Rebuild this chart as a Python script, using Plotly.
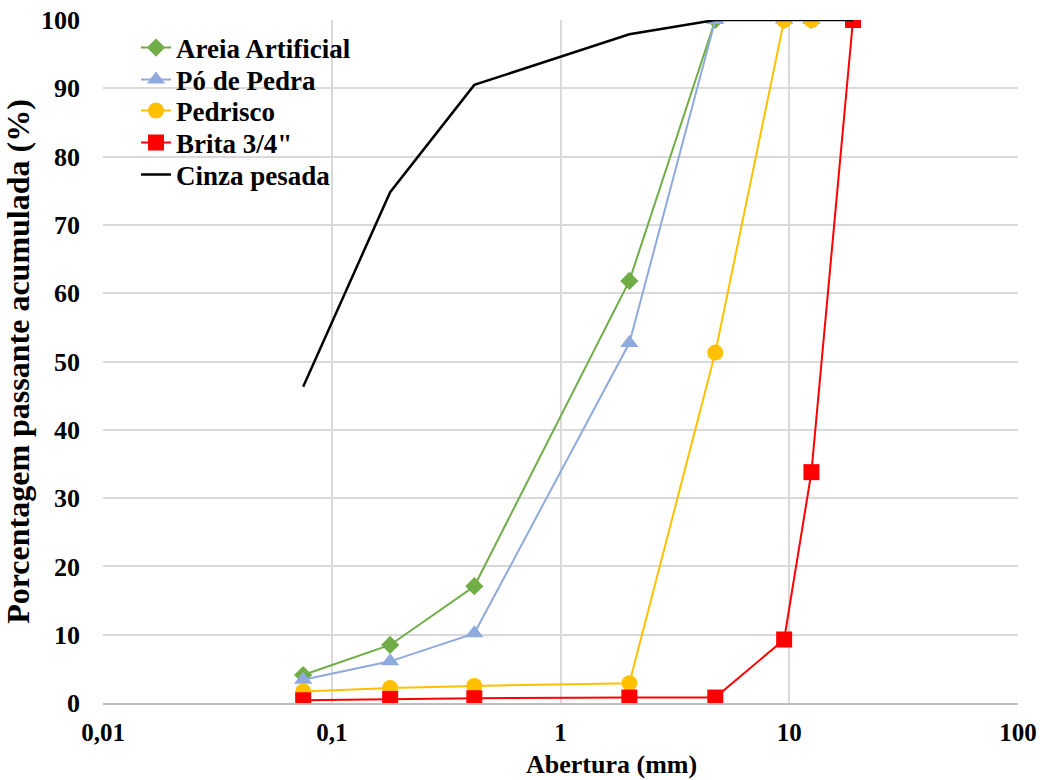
import plotly.graph_objects as go

# Sieve openings (mm)
aberturas = [0.075, 0.18, 0.42, 2.0, 4.75, 9.5, 12.5, 19.0]

areia_artificial = [4.1, 8.5, 17.1, 61.8, 100, 100, 100]
po_de_pedra = [3.4, 6.1, 10.2, 52.7, 100, 100, 100]
pedrisco = [1.7, 2.2, 2.5, 2.9, 51.3, 100, 100]
brita = [0.4, 0.6, 0.7, 0.8, 0.8, 9.3, 33.8, 100]
cinza_pesada = [46.3, 74.8, 90.5, 97.9, 100, 100, 100, 100]

x_tickvals = [0.01, 0.1, 1, 10, 100]
x_ticktext = ["0,01", "0,1", "1", "10", "100"]
y_tickvals = list(range(0, 101, 10))

FONT = "Liberation Serif"
LEG_FONT = 27

series = [
    ("Areia Artificial", areia_artificial, "#70AD47", "diamond", 14),
    ("Pó de Pedra", po_de_pedra, "#8FAADC", "triangle-up", 16),
    ("Pedrisco", pedrisco, "#FFC000", "circle", 16),
    ("Brita 3/4\"", brita, "#FF0000", "square", 16),
]

fig = go.Figure()
legend_names = ["legend", "legend2", "legend3", "legend4", "legend5"]
for i, (name, vals, color, sym, size) in enumerate(series):
    fig.add_trace(go.Scatter(
        x=aberturas[:len(vals)], y=vals, name=name,
        mode="lines+markers", line=dict(color=color, width=2),
        marker=dict(symbol=sym, size=size, color=color),
        legend=legend_names[i]))
fig.add_trace(go.Scatter(
    x=aberturas[:len(cinza_pesada)], y=cinza_pesada, name="Cinza pesada",
    mode="lines", line=dict(color="#000000", width=2.5),
    legend=legend_names[4]))

# page body margin is removed below, so figure px == screen px
W, H = 1040, 780
PT, PB, PL, PR = 20, 703, 103, 1018
PH = PB - PT
PW = PR - PL


def px_x(sx):
    return (sx - PL) / PW


def px_y(sy):
    return 1 - (sy - PT) / PH


row_px = [48, 80, 111, 143, 175]

layout_legends = {}
for name, ry in zip(legend_names, row_px):
    layout_legends[name] = dict(
        x=px_x(136), y=px_y(ry),
        xanchor="left", yanchor="middle",
        bgcolor="rgba(0,0,0,0)", borderwidth=0,
        font=dict(family=FONT, size=LEG_FONT, color="black", weight="bold"),
    )

fig.update_layout(
    width=W, height=H,
    margin=dict(l=PL, r=W - PR, t=PT, b=H - PB),
    paper_bgcolor="white", plot_bgcolor="white",
    font=dict(family=FONT, size=26, color="black"),
    showlegend=True,
    shapes=[dict(type="rect", xref="paper", yref="paper", layer="between",
                 x0=px_x(108), x1=px_x(378), y0=px_y(192), y1=px_y(30),
                 fillcolor="white", line=dict(width=0))],
    annotations=[dict(
        text="<b>Abertura (mm)</b>", xref="paper", yref="paper",
        x=px_x(611), y=px_y(764), xanchor="center", yanchor="middle",
        showarrow=False, font=dict(family=FONT, size=26, color="black"))],
    **layout_legends,
)

fig.update_xaxes(
    type="log", range=[-2, 2], automargin=False,
    tickvals=x_tickvals, ticktext=x_ticktext, ticklabeloverflow="allow",
    showgrid=True, gridcolor="#D9D9D9", gridwidth=1.5,
    showline=True, linecolor="#BFBFBF", linewidth=1.5,
    zeroline=False, ticks="", ticklabelstandoff=6,
    tickfont=dict(family=FONT, size=25, color="black", weight="bold"),
)
fig.update_yaxes(
    range=[0, 100], tickvals=y_tickvals, automargin=False,
    ticklabeloverflow="allow",
    showgrid=True, gridcolor="#D9D9D9", gridwidth=1.5,
    showline=False, zeroline=False, ticks="", ticklabelstandoff=22,
    tickfont=dict(family=FONT, size=26, color="black", weight="bold"),
    title=dict(text="<b>Porcentagem passante acumulada (%)</b>",
               font=dict(family=FONT, size=32), standoff=11),
)

fig.write_html(
    "out.html",
    config={"displayModeBar": False},
    post_script="document.body.style.margin='0';document.body.style.overflow='hidden';",
)
